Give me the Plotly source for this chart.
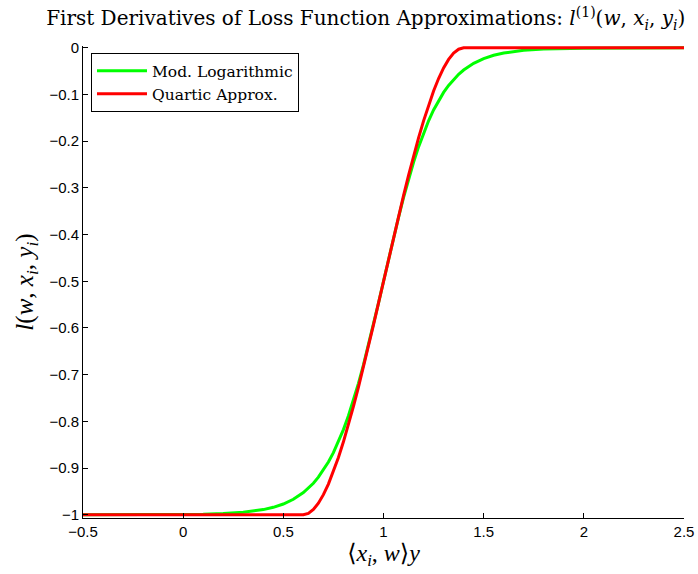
import plotly.graph_objects as go

# ---- data ----
green_x = [-0.5, -0.25, 0.0, 0.1, 0.2, 0.3, 0.4, 0.45, 0.5, 0.55, 0.6, 0.625, 0.65, 0.675,
           0.7, 0.725, 0.75, 0.775, 0.8, 0.825, 0.85, 0.875, 0.9, 0.925, 0.95, 0.975,
           1.0, 1.025, 1.05, 1.075, 1.1, 1.125, 1.15, 1.175, 1.2, 1.225, 1.25, 1.275,
           1.3, 1.325, 1.35, 1.375, 1.4, 1.45, 1.5, 1.55, 1.6, 1.7, 1.8, 1.9, 2.0, 2.25, 2.5]
green_y = [-1.0, -0.9999, -0.9995, -0.9988, -0.9975, -0.9948, -0.9890, -0.9841, -0.9770,
           -0.9669, -0.9526, -0.9433, -0.9325, -0.9196, -0.9047, -0.8872, -0.8670, -0.8439,
           -0.8176, -0.7879, -0.7549, -0.7186, -0.6792, -0.6370, -0.5927, -0.5467,
           -0.5, -0.4533, -0.4073, -0.3630, -0.3208, -0.2814, -0.2451, -0.2121, -0.1824,
           -0.1561, -0.1330, -0.1128, -0.0954, -0.0804, -0.0676, -0.0567, -0.0474,
           -0.0331, -0.0230, -0.0159, -0.0110, -0.0052, -0.0025, -0.0012, -0.0006, -0.0001, 0.0]

red_x = [-0.5, 0.6, 0.625, 0.65, 0.675, 0.7, 0.725, 0.75, 0.775, 0.8, 0.825, 0.85, 0.875,
         0.9, 0.925, 0.95, 0.975, 1.0, 1.025, 1.05, 1.075, 1.1, 1.125, 1.15, 1.175, 1.2,
         1.225, 1.25, 1.275, 1.3, 1.325, 1.35, 1.375, 1.4, 2.5]
red_y = [-1.0, -1.0, -0.9971, -0.9888, -0.9753, -0.9570, -0.9344, -0.9077, -0.8774, -0.8438,
         -0.8072, -0.7681, -0.7268, -0.6836, -0.6390, -0.5933, -0.5468, -0.5, -0.4532,
         -0.4067, -0.3610, -0.3164, -0.2733, -0.2319, -0.1928, -0.1563, -0.1226, -0.0923,
         -0.0656, -0.0430, -0.0247, -0.0112, -0.0029, 0.0, 0.0]

x_ticks = [-0.5, 0, 0.5, 1, 1.5, 2, 2.5]
y_ticks = [0, -0.1, -0.2, -0.3, -0.4, -0.5, -0.6, -0.7, -0.8, -0.9, -1]

series_names = ["Mod. Logarithmic", "Quartic Approx."]

SERIF = "DejaVu Serif, Liberation Serif, serif"
MATH = "Liberation Serif, DejaVu Serif, serif"
SANS = "Liberation Sans, Arial, sans-serif"

fig = go.Figure()
fig.add_trace(go.Scatter(x=green_x, y=green_y, mode="lines", name=series_names[0],
                         line=dict(color="#00ff00", width=3)))
fig.add_trace(go.Scatter(x=red_x, y=red_y, mode="lines", name=series_names[1],
                         line=dict(color="#ff0000", width=3)))

fig.update_layout(
    width=698, height=574,
    margin=dict(l=83, r=14, t=46, b=56),
    paper_bgcolor="white", plot_bgcolor="white",
    title=dict(
        text="First Derivatives of Loss Function Approximations: "
             "<i>l</i><sup>(1)</sup>(<i>w</i>, <i>x<sub>i</sub></i>, <i>y<sub>i</sub></i>)",
        font=dict(family=SERIF, size=20, color="black"),
        x=0.524, xref="container", xanchor="center",
        y=0.968, yref="container", yanchor="middle"),
    showlegend=True,
    legend=dict(
        x=0.0133, y=0.985, xanchor="left", yanchor="top",
        bgcolor="white", bordercolor="black", borderwidth=1,
        font=dict(family=SERIF, size=15.5, color="black"),
        itemwidth=50, tracegroupgap=0),
    xaxis=dict(
        range=[-0.5, 2.5], tickvals=x_ticks, automargin=False,
        showline=True, linecolor="black", linewidth=1, mirror=False,
        ticks="inside", ticklen=5, tickcolor="black",
        showgrid=False, zeroline=False,
        tickfont=dict(family=SANS, size=15, color="black"),
        title=dict(text="⟨<i>x<sub>i</sub></i>, <i>w</i>⟩<i>y</i>",
                   font=dict(family=MATH, size=24, color="black"), standoff=4)),
    yaxis=dict(
        range=[-1.007, 0.004], tickvals=y_ticks, automargin=False,
        showline=True, linecolor="black", linewidth=1, mirror=False,
        ticks="inside", ticklen=5, tickcolor="black",
        showgrid=False, zeroline=False,
        tickfont=dict(family=SANS, size=15, color="black"),
        title=dict(text="<i>l</i>(<i>w</i>, <i>x<sub>i</sub></i>, <i>y<sub>i</sub></i>)",
                   font=dict(family=MATH, size=25, color="black"), standoff=8)),
)

fig.write_html("out.html")
